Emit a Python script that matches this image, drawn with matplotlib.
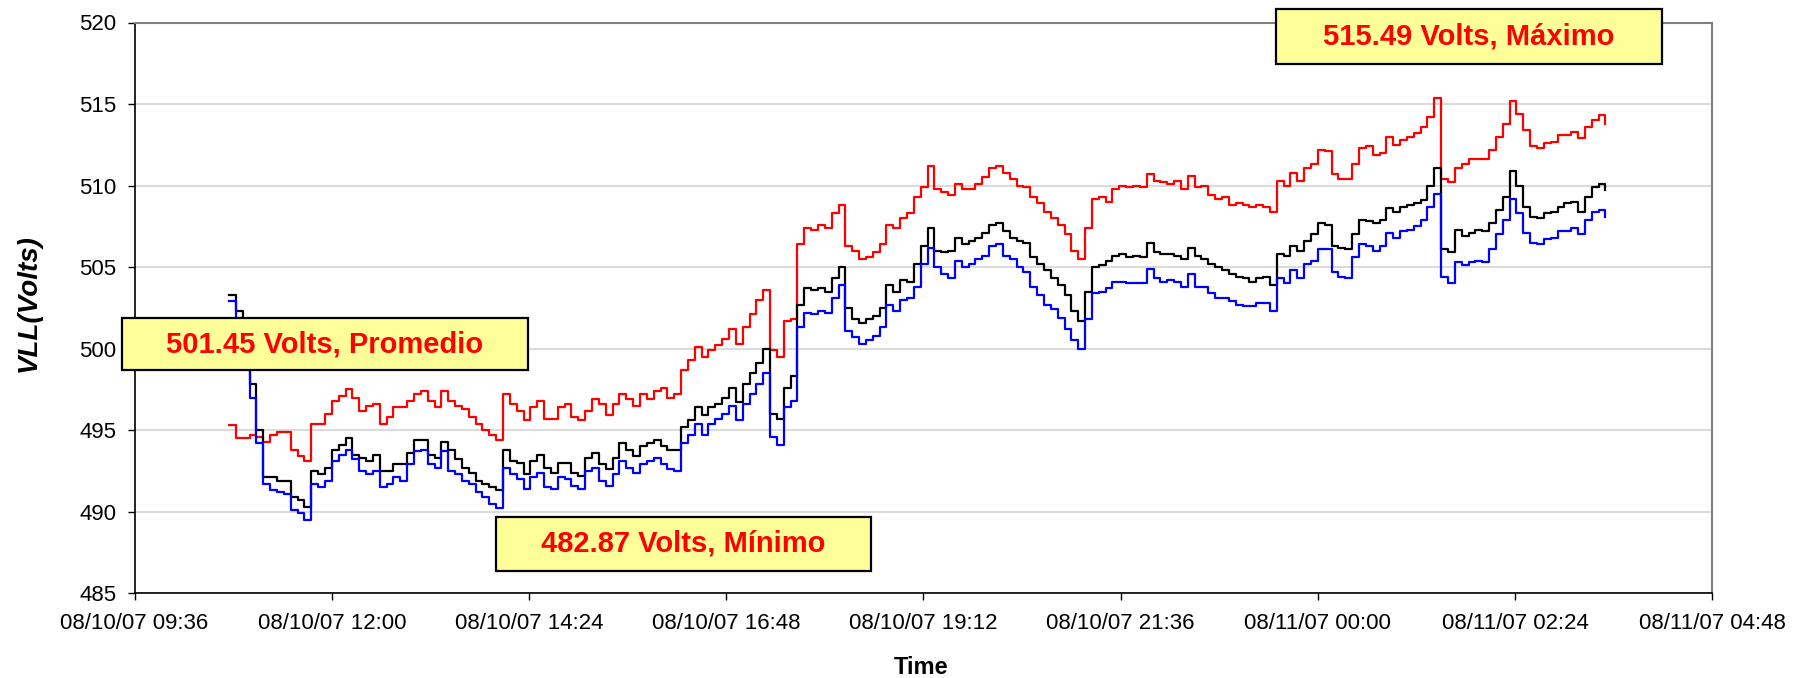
# ============================================
# VLL VOLTAGE TREND  08/10/07 - 08/11/07
# ============================================

import pandas as pd
import matplotlib
matplotlib.use("Agg")
import matplotlib.pyplot as plt
import matplotlib.dates as mdates
from matplotlib.patches import Rectangle

# -------------------------------
# Data (5 minute samples)
# -------------------------------
START = "2007-08-10 10:45"

vll_max = [
    495.3, 494.5, 494.5, 494.7, 494.6, 494.3, 494.7, 494.9, 494.9, 493.8, 493.4, 493.1,
    495.4, 495.4, 496.0, 496.8, 497.1, 497.5, 497.0, 496.2, 496.5, 496.6, 495.4, 495.8,
    496.4, 496.4, 496.8, 497.2, 497.4, 496.8, 496.4, 497.4, 496.8, 496.5, 496.3, 495.8,
    495.4, 495.0, 494.7, 494.4, 497.2, 496.6, 496.2, 495.6, 496.4, 496.8, 495.7, 495.7,
    496.4, 496.6, 495.8, 495.6, 496.2, 496.9, 496.6, 495.9, 496.6, 497.2, 496.9, 496.5,
    497.2, 496.9, 497.4, 497.6, 497.0, 497.2, 498.7, 499.3, 500.1, 499.5, 499.9, 500.2,
    500.6, 501.2, 500.3, 501.3, 502.1, 503.0, 503.6, 499.9, 499.5, 501.7, 501.8, 506.4,
    507.4, 507.3, 507.6, 507.4, 508.3, 508.8, 506.3, 506.0, 505.5, 505.6, 505.9, 506.4,
    507.6, 507.4, 508.0, 508.3, 509.3, 509.9, 511.2, 509.8, 509.6, 509.4, 510.1, 509.8,
    509.8, 510.1, 510.5, 511.1, 511.2, 510.8, 510.4, 510.0, 509.9, 509.3, 508.9, 508.4,
    508.0, 507.6, 507.0, 506.0, 505.5, 507.4, 509.2, 509.3, 509.0, 509.8, 510.0, 509.9,
    510.0, 509.9, 510.7, 510.3, 510.2, 510.1, 510.3, 509.8, 510.6, 509.9, 510.0, 509.4,
    509.2, 509.3, 508.8, 508.9, 508.8, 508.7, 508.8, 508.7, 508.4, 510.3, 510.0, 510.8,
    510.3, 511.1, 511.3, 512.2, 512.1, 510.7, 510.4, 510.4, 511.3, 512.3, 512.4, 511.9,
    512.0, 513.0, 512.5, 512.8, 513.0, 513.2, 513.6, 514.2, 515.4, 510.4, 510.2, 511.1,
    511.3, 511.6, 511.6, 511.6, 512.2, 513.0, 513.8, 515.2, 514.4, 513.4, 512.4, 512.3,
    512.6, 512.7, 513.1, 513.1, 513.3, 512.9, 513.6, 514.0, 514.3, 513.8,
]

vll_avg = [
    503.3, 502.3, 499.5, 497.8, 495.0, 492.1, 492.1, 491.9, 491.9, 490.9, 490.7, 490.3,
    492.5, 492.3, 492.7, 493.8, 494.1, 494.5, 493.5, 493.3, 493.1, 493.5, 492.5, 492.5,
    492.9, 492.9, 493.6, 494.4, 494.4, 493.5, 493.3, 494.3, 493.8, 493.2, 492.7, 492.4,
    491.9, 491.7, 491.5, 491.3, 493.8, 493.1, 493.0, 492.3, 493.1, 493.5, 492.7, 492.4,
    493.0, 493.0, 492.4, 492.2, 493.3, 493.6, 492.9, 492.6, 493.3, 494.2, 493.8, 493.4,
    494.0, 494.2, 494.4, 494.0, 493.8, 493.8, 495.2, 495.6, 496.4, 495.9, 496.4, 496.6,
    497.0, 497.6, 496.7, 497.8, 498.5, 499.1, 500.0, 496.0, 495.7, 497.6, 498.3, 502.7,
    503.7, 503.6, 503.7, 503.5, 504.3, 505.0, 502.5, 501.8, 501.6, 501.8, 502.0, 502.5,
    503.9, 503.5, 504.2, 504.1, 505.2, 506.3, 507.4, 506.0, 505.9, 506.0, 506.8, 506.4,
    506.6, 506.8, 507.1, 507.6, 507.7, 507.2, 506.8, 506.6, 506.5, 505.6, 505.2, 504.8,
    504.3, 503.9, 503.3, 502.3, 501.7, 503.5, 505.0, 505.1, 505.4, 505.7, 505.8, 505.6,
    505.7, 505.6, 506.5, 505.9, 505.8, 505.8, 505.7, 505.5, 506.2, 505.7, 505.5, 505.2,
    505.0, 504.8, 504.6, 504.4, 504.3, 504.1, 504.3, 504.4, 503.9, 505.8, 505.7, 506.3,
    506.0, 506.6, 507.0, 507.7, 507.6, 506.3, 506.2, 506.1, 507.0, 507.9, 507.8, 507.7,
    507.9, 508.6, 508.4, 508.7, 508.8, 508.9, 509.1, 510.0, 511.1, 506.1, 505.9, 507.3,
    506.9, 507.1, 507.3, 507.2, 507.7, 508.5, 509.3, 510.9, 510.0, 508.7, 508.1, 508.0,
    508.3, 508.4, 508.7, 508.9, 509.0, 508.4, 509.3, 509.9, 510.1, 509.7,
]

vll_min = [
    502.9, 501.9, 499.0, 497.0, 494.2, 491.7, 491.3, 491.2, 491.1, 490.1, 489.9, 489.5,
    491.7, 491.5, 491.9, 493.1, 493.5, 493.8, 493.2, 492.5, 492.3, 492.5, 491.5, 491.7,
    492.1, 491.9, 492.9, 493.7, 493.8, 492.9, 492.7, 493.7, 492.5, 492.3, 491.9, 491.7,
    491.2, 490.9, 490.5, 490.2, 492.7, 492.3, 492.0, 491.4, 492.1, 492.4, 491.5, 491.4,
    492.1, 492.0, 491.6, 491.4, 492.5, 492.7, 491.9, 491.6, 492.3, 493.1, 492.7, 492.4,
    492.9, 493.1, 493.3, 492.9, 492.6, 492.5, 494.2, 494.7, 495.4, 494.7, 495.4, 495.7,
    496.0, 496.5, 495.6, 496.6, 497.2, 497.8, 498.5, 494.6, 494.1, 496.4, 496.8, 501.3,
    502.2, 502.1, 502.3, 502.2, 503.1, 503.9, 501.1, 500.7, 500.3, 500.5, 500.8, 501.3,
    502.7, 502.3, 503.0, 503.1, 503.8, 505.2, 506.2, 505.0, 504.6, 504.3, 505.4, 505.0,
    505.2, 505.5, 505.7, 506.3, 506.4, 505.7, 505.5, 505.0, 504.7, 503.8, 503.3, 502.7,
    502.4, 501.9, 501.2, 500.5, 500.0, 501.8, 503.4, 503.5, 503.7, 504.1, 504.1, 504.0,
    504.0, 504.0, 504.9, 504.3, 504.1, 504.2, 504.1, 503.8, 504.6, 503.8, 503.8, 503.4,
    503.1, 503.1, 502.9, 502.7, 502.6, 502.6, 502.8, 502.8, 502.3, 504.3, 504.0, 504.8,
    504.3, 505.2, 505.4, 506.1, 506.1, 504.7, 504.4, 504.3, 505.6, 506.4, 506.3, 506.0,
    506.3, 507.1, 506.8, 507.2, 507.3, 507.5, 507.9, 508.7, 509.5, 504.4, 504.0, 505.3,
    505.1, 505.3, 505.4, 505.3, 506.1, 507.0, 507.9, 509.2, 508.3, 507.1, 506.5, 506.4,
    506.7, 506.8, 507.2, 507.2, 507.4, 507.0, 507.9, 508.4, 508.5, 508.1,
]

labels = ["501.45 Volts, Promedio", "482.87 Volts, Mínimo", "515.49 Volts, Máximo"]

times = pd.date_range(START, periods=len(vll_max), freq="5min")

# -------------------------------
# Figure
# -------------------------------
plt.rcParams["font.family"] = ["Liberation Sans", "DejaVu Sans"]

W, H = 1804, 678
fig = plt.figure(figsize=(W / 100, H / 100), dpi=100)
ax = fig.add_axes([134.6 / W, 1 - 593.2 / H, (1712.3 - 134.6) / W, (593.2 - 22.5) / H])

ax.plot(times, vll_max, color="#FF0000", lw=1.6, drawstyle="steps-post")
ax.plot(times, vll_avg, color="#000000", lw=1.6, drawstyle="steps-post")
ax.plot(times, vll_min, color="#0000FF", lw=1.6, drawstyle="steps-post")

# -------------------------------
# Axes
# -------------------------------
x0 = pd.Timestamp("2007-08-10 09:36")
x1 = pd.Timestamp("2007-08-11 04:48")
ax.set_xlim(x0, x1)
ax.set_xticks(pd.date_range(x0, x1, freq="144min"))
ax.xaxis.set_major_formatter(mdates.DateFormatter("%m/%d/%y %H:%M"))

ax.set_ylim(485, 520)
ax.set_yticks(range(485, 521, 5))

ax.yaxis.grid(True, color="#D4D4D4", lw=1.2)
ax.set_axisbelow(True)

for s in ["top", "right"]:
    ax.spines[s].set_color("#808080")
    ax.spines[s].set_linewidth(1.5)
for s in ["left", "bottom"]:
    ax.spines[s].set_color("#000000")
    ax.spines[s].set_linewidth(1.2)

ax.tick_params(axis="both", direction="out", length=5, width=1.0, labelsize=16)
ax.tick_params(axis="x", pad=9)
ax.tick_params(axis="y", pad=8)

fig.text(921 / W, 1 - 667 / H, "Time", ha="center", va="center",
         fontsize=17, fontweight="bold")
fig.text(28.5 / W, 1 - 303 / H, "VLL(Volts)", ha="center", va="center",
         rotation=90, fontsize=20, fontweight="bold", fontstyle="italic")

# -------------------------------
# Yellow annotation boxes
# -------------------------------
boxes = [(122, 318, 528, 370), (496, 517, 871, 571), (1276, 9, 1662, 64)]

for (bx0, by0, bx1, by1), txt in zip(boxes, labels):
    fig.add_artist(Rectangle((bx0 / W, 1 - by1 / H), (bx1 - bx0) / W, (by1 - by0) / H,
                             transform=fig.transFigure, facecolor="#FFFF99",
                             edgecolor="black", lw=1.6, zorder=5))
    fig.text((bx0 + bx1) / 2 / W, 1 - (by0 + by1) / 2 / H, txt, ha="center", va="center",
             color="#FF0000", fontsize=21, fontweight="bold", zorder=6)

fig.savefig("out.png", dpi=100)
